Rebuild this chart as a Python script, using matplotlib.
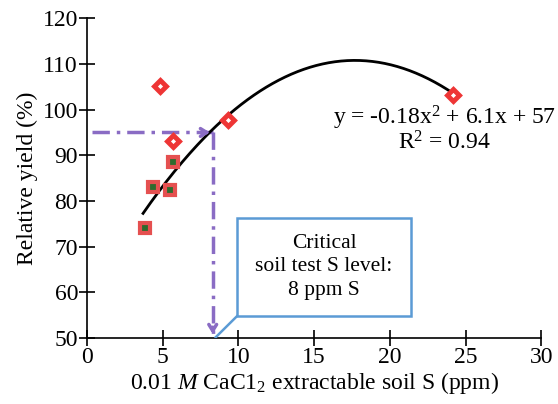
import numpy as np
import matplotlib
matplotlib.use("Agg")
import matplotlib.pyplot as plt
from matplotlib.patches import Rectangle

plt.rcParams['font.family'] = ['Liberation Serif', 'DejaVu Serif']
plt.rcParams['mathtext.fontset'] = 'custom'
plt.rcParams['mathtext.rm'] = 'Liberation Serif'
plt.rcParams['mathtext.it'] = 'Liberation Serif:italic'

# observed points (two marker groups)
sq_x = [3.8, 4.35, 5.5, 5.65]
sq_y = [74, 83, 82.5, 88.5]
dia_x = [4.8, 5.65, 9.3, 24.2]
dia_y = [105.2, 93.1, 97.8, 103.2]

# quadratic trend line y = a x^2 + b x + c
coef = [-0.171, 6.05, 57.25]
fit_range = [3.7, 24.2]

critical_x = 8.3
critical_y = 95

fig = plt.figure(figsize=(5.58, 4.04), dpi=100)
ax = fig.add_axes([0.156, 0.163, 0.814, 0.792])

xs = np.linspace(fit_range[0], fit_range[1], 200)
ax.plot(xs, np.polyval(coef, xs), color='black', lw=2, zorder=3)

ax.plot(sq_x, sq_y, 's', ms=6.5, mfc='#2e6b2e', mec='#e55050', mew=3, zorder=4)
ax.plot(dia_x, dia_y, 'D', ms=6.5, mfc='white', mec='#ee3535', mew=3.5, zorder=4)

purple = '#8a6cc4'
ax.plot([0.3, critical_x], [critical_y, critical_y], color=purple, lw=2.5,
        ls=(0, (5, 2, 1, 2)), zorder=2)
ax.plot([critical_x, critical_x], [critical_y, 50.5], color=purple, lw=2.5,
        ls=(0, (5, 2, 1, 2)), zorder=2)
ax.annotate('', xy=(critical_x, critical_y), xytext=(critical_x - 0.8, critical_y),
            arrowprops=dict(arrowstyle='->,head_length=0.45,head_width=0.28', color=purple, lw=2.5))
ax.annotate('', xy=(critical_x, 50.3), xytext=(critical_x, 53),
            arrowprops=dict(arrowstyle='->,head_length=0.45,head_width=0.28', color=purple, lw=2.5))

# callout box
box = Rectangle((9.9, 54.8), 11.5, 21.4, fill=False, ec='#5b9bd5', lw=1.8, zorder=3)
ax.add_patch(box)
ax.plot([9.9, critical_x + 0.2], [54.8, 50.2], color='#5b9bd5', lw=1.8, zorder=3)
ax.text(15.65, 65.6, 'Critical\nsoil test S level:\n8 ppm S', ha='center', va='center',
        fontsize=15.5, linespacing=1.3)

ax.text(23.6, 95.7, 'y = -0.18x$^2$ + 6.1x + 57\nR$^2$ = 0.94', ha='center', va='center',
        multialignment='center', fontsize=17, linespacing=1.0)

ax.set_xlim(0, 30)
ax.set_ylim(50, 120)
ax.set_xticks(range(0, 31, 5))
ax.set_yticks(range(50, 121, 10))
ax.spines['top'].set_visible(False)
ax.spines['right'].set_visible(False)
ax.spines['left'].set_linewidth(1.2)
ax.spines['bottom'].set_linewidth(1.2)
ax.tick_params(direction='inout', length=11, width=1.2, labelsize=17, pad=1)
ax.set_xlabel('0.01 $\\mathit{M}$ CaC1$_2$ extractable soil S (ppm)', fontsize=17, labelpad=1)
ax.set_ylabel('Relative yield (%)', fontsize=17, labelpad=3)

fig.savefig('out.png', dpi=100)
